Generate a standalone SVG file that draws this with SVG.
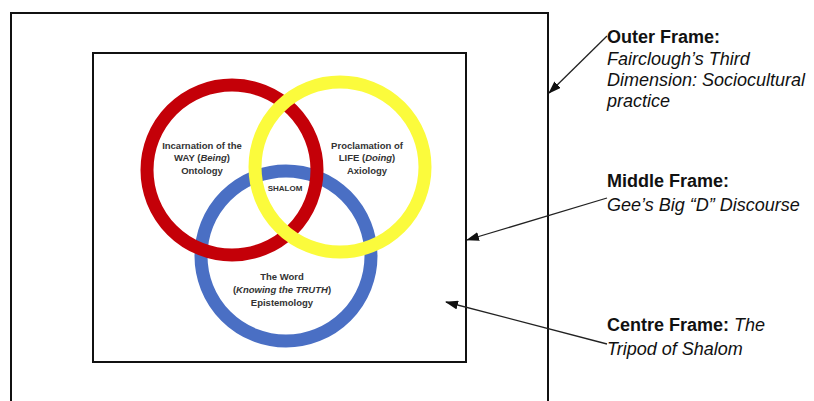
<svg xmlns="http://www.w3.org/2000/svg" width="814" height="401" viewBox="0 0 814 401">
  <style>
    .frame { fill: none; stroke: #111; stroke-width: 2; }
    .ring { fill: none; stroke-width: 13; }
    .ctext { font-family: "Liberation Sans", Arial, sans-serif; font-weight: bold; font-size: 9.5px; fill: #333; text-anchor: middle; }
    .label { font-family: "Liberation Sans", Arial, sans-serif; font-size: 18px; fill: #111; }
    .b { font-weight: bold; }
    .i { font-style: italic; }
    .conn { stroke: #222; stroke-width: 1.3; fill: none; marker-end: url(#arrow); }
  </style>
  <defs>
    <marker id="arrow" viewBox="0 0 13 9" refX="12" refY="4.5" markerWidth="13" markerHeight="9" markerUnits="userSpaceOnUse" orient="auto">
      <path d="M0,0 L13,4.5 L0,9 Z" fill="#111"/>
    </marker>
  </defs>
  <rect width="814" height="401" fill="#fff"/>

  <g id="outer-frame">
    <rect class="frame" x="11" y="13" width="537" height="400"/>
  </g>

  <g id="middle-frame">
    <rect class="frame" x="93" y="53" width="373" height="309"/>
  </g>

  <g id="word-circle">
    <circle class="ring" cx="286" cy="256" r="85" stroke="#4a6fc4"/>
    <text class="ctext" x="282" y="280">The Word</text>
    <text class="ctext" x="282" y="293">(<tspan class="i">Knowing the TRUTH</tspan>)</text>
    <text class="ctext" x="282" y="306">Epistemology</text>
  </g>

  <g id="way-circle">
    <circle class="ring" cx="232" cy="170" r="85" stroke="#c40008"/>
    <text class="ctext" x="202" y="149">Incarnation of the</text>
    <text class="ctext" x="202" y="161">WAY (<tspan class="i">Being</tspan>)</text>
    <text class="ctext" x="202" y="174">Ontology</text>
  </g>

  <g id="life-circle">
    <circle class="ring" cx="340" cy="167" r="85" stroke="#fbfb3c"/>
    <text class="ctext" x="367" y="149">Proclamation of</text>
    <text class="ctext" x="367" y="161">LIFE (<tspan class="i">Doing</tspan>)</text>
    <text class="ctext" x="367" y="174">Axiology</text>
  </g>

  <g id="shalom">
    <text class="ctext" x="285" y="191" style="font-size:8px">SHALOM</text>
  </g>

  <g id="connectors">
    <line class="conn" x1="607" y1="36" x2="549" y2="93"/>
    <line class="conn" x1="607" y1="198" x2="467" y2="240"/>
    <line class="conn" x1="607" y1="344" x2="446" y2="302"/>
  </g>

  <g id="outer-label">
    <text class="label b" x="607" y="43">Outer Frame:</text>
    <text class="label i" x="607" y="65">Fairclough’s Third</text>
    <text class="label i" x="607" y="86">Dimension: Sociocultural</text>
    <text class="label i" x="607" y="107">practice</text>
  </g>

  <g id="middle-label">
    <text class="label b" x="607" y="187">Middle Frame:</text>
    <text class="label i" x="607" y="211">Gee’s Big “D” Discourse</text>
  </g>

  <g id="centre-label">
    <text class="label" x="607" y="331"><tspan class="b">Centre Frame:</tspan> <tspan class="i">The</tspan></text>
    <text class="label i" x="607" y="355">Tripod of Shalom</text>
  </g>
</svg>
